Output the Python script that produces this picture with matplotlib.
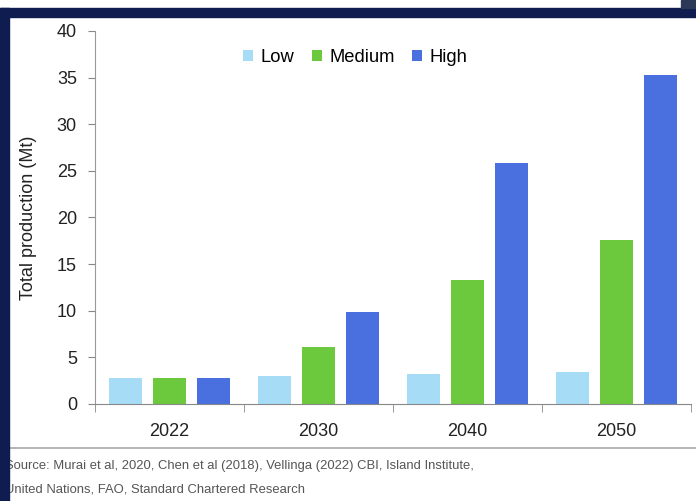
import numpy as np
import matplotlib.pyplot as plt
from matplotlib.patches import Rectangle

plt.rcParams['font.family'] = ['Liberation Sans', 'DejaVu Sans']

# data
years = ['2022', '2030', '2040', '2050']
low = [2.8, 3.0, 3.2, 3.4]
medium = [2.8, 6.1, 13.3, 17.6]
high = [2.8, 9.9, 25.8, 35.3]
series_names = ['Low', 'Medium', 'High']
colors = ['#a6dcf6', '#6cc83c', '#4a70e0']

W, H = 696, 501
fig = plt.figure(figsize=(W / 100, H / 100), dpi=100)
ax = fig.add_axes([95 / W, 1 - 404 / H, (691 - 95) / W, (404 - 31) / H])

x = np.arange(len(years))
bw = 0.22
step = 0.295
for i, (vals, name, col) in enumerate(zip([low, medium, high], series_names, colors)):
    ax.bar(x + (i - 1) * step, vals, bw, color=col, label=name, zorder=2)

ax.set_xlim(-0.5, len(years) - 0.5)
ax.set_ylim(0, 40)
ax.set_yticks(range(0, 41, 5))
ax.set_xticks(x)
ax.set_xticklabels(years, fontsize=13, color='#222222')
ax.tick_params(axis='x', length=0, pad=14)
ax.set_xticks(np.arange(-0.5, len(years)), minor=True)
ax.tick_params(axis='x', which='minor', length=6, color='#888888', direction='out')
ax.tick_params(axis='y', length=5, color='#888888', direction='out', labelsize=13,
               labelcolor='#222222', pad=8)

for s in ['top', 'right']:
    ax.spines[s].set_visible(False)
ax.spines['left'].set_color('#999999')
ax.spines['bottom'].set_color('#888888')

ax.set_ylabel('Total production (Mt)', fontsize=13, color='#222222', labelpad=14)

leg = ax.legend(loc='upper center', bbox_to_anchor=(0.437, 0.997), ncol=3, frameon=False,
                fontsize=13.2, handlelength=0.55, handleheight=0.55, handletextpad=0.4,
                columnspacing=0.95)

# source note
fig.text(5 / W, 1 - 466 / H, 'Source: Murai et al, 2020, Chen et al (2018), Vellinga (2022) CBI, Island Institute,',
         fontsize=9.4, color='#555555', va='center')
fig.text(5 / W, 1 - 490 / H, 'United Nations, FAO, Standard Chartered Research',
         fontsize=9.4, color='#555555', va='center')

# separator line
fig.add_artist(plt.Line2D([9 / W, 1], [1 - 448 / H, 1 - 448 / H], color='#a8a8a8', lw=1.2))

# navy frame
navy = '#0e1c50'
fig.add_artist(Rectangle((0, 1 - 17 / H), 1, 9 / H, color=navy, zorder=10))
fig.add_artist(Rectangle((0, 0), 8.5 / W, 1 - 8 / H, color=navy, zorder=10))
fig.add_artist(Rectangle((681 / W, 1 - 8 / H), 15 / W, 8 / H, color='#2c3858', zorder=10))

fig.savefig('out.png', dpi=100)
